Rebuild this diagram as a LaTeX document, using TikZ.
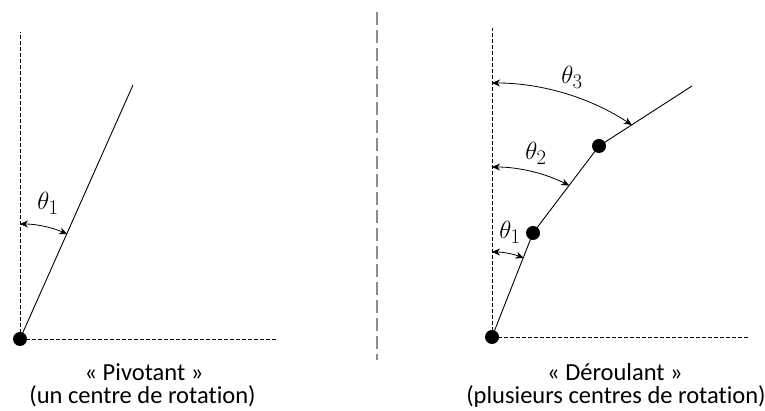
\documentclass[tikz,border=0pt]{standalone}
\usepackage{fontspec}
\setmainfont[Ligatures=NoCommon]{Carlito}
\usetikzlibrary{arrows.meta}
\begin{document}
\begin{tikzpicture}[x=1pt,y=1pt,
  guide/.style={dash pattern=on 3.5pt off 2.5pt, line width=0.7pt},
  seg/.style={line width=0.9pt},
  joint/.style={circle, fill=black, inner sep=0pt, minimum size=14pt},
  angarrow/.style={line width=0.8pt, {Stealth[length=8pt,width=7pt]}-{Stealth[length=8pt,width=7pt]}},
  lbl/.style={font=\fontsize{24.88}{28}\selectfont, inner sep=0pt},
  captext/.style={font=\fontsize{24.5}{26}\selectfont, inner sep=0pt, anchor=base}]
\useasboundingbox (0,0) rectangle (765,411);
% ---- left panel
\coordinate (Ltop) at (20,379);
\coordinate (Lright) at (276,72);
\coordinate (Lend) at (133,326);
\draw[guide] (20,72) -- (Ltop);
\draw[guide] (20,72) -- (Lright);
\draw[seg] (20,72) -- (Lend);
\node[joint] (L0) at (20,72) {};
\draw[angarrow] ([shift={(90:115)}]L0.center) arc[start angle=90, end angle=65.8, radius=115];
\node[lbl] (Lt1) at (48,208) {$\theta_1$};
\node[captext] (Lc1) at (144,30) {« Pivotant »};
\node[captext] (Lc2) at (142.5,7) {(un centre de rotation)};
% ---- separator
\coordinate (Stop) at (377,399);
\coordinate (Sbot) at (377,51);
\draw[gray!90, line width=2pt, dash pattern=on 13pt off 5pt] (Stop) -- (Sbot);
% ---- right panel
\coordinate (Rtop) at (492,383);
\coordinate (Rright) at (748,74);
\coordinate (E) at (692,325);
\draw[guide] (492,74) -- (Rtop);
\draw[guide] (492,74) -- (Rright);
\node[joint] (B) at (492,74) {};
\node[joint] (D1) at (533,178) {};
\node[joint] (D2) at (599,265) {};
\draw[seg] (B.center) -- (D1.center) -- (D2.center) -- (E);
\draw[angarrow] ([shift={(90:85)}]B.center) arc[start angle=90, end angle=68.2, radius=85];
\draw[angarrow] ([shift={(90:170)}]B.center) arc[start angle=90, end angle=63, radius=170];
\draw[angarrow] ([shift={(90:254)}]B.center) arc[start angle=90, end angle=56.6, radius=254];
\node[lbl] (Rt1) at (510,179) {$\theta_1$};
\node[lbl] (Rt2) at (536,258) {$\theta_2$};
\node[lbl] (Rt3) at (572,334) {$\theta_3$};
\node[captext] (Rc1) at (615,30) {« Déroulant »};
\node[captext] (Rc2) at (616,7) {(plusieurs centres de rotation)};
\end{tikzpicture}
\end{document}
